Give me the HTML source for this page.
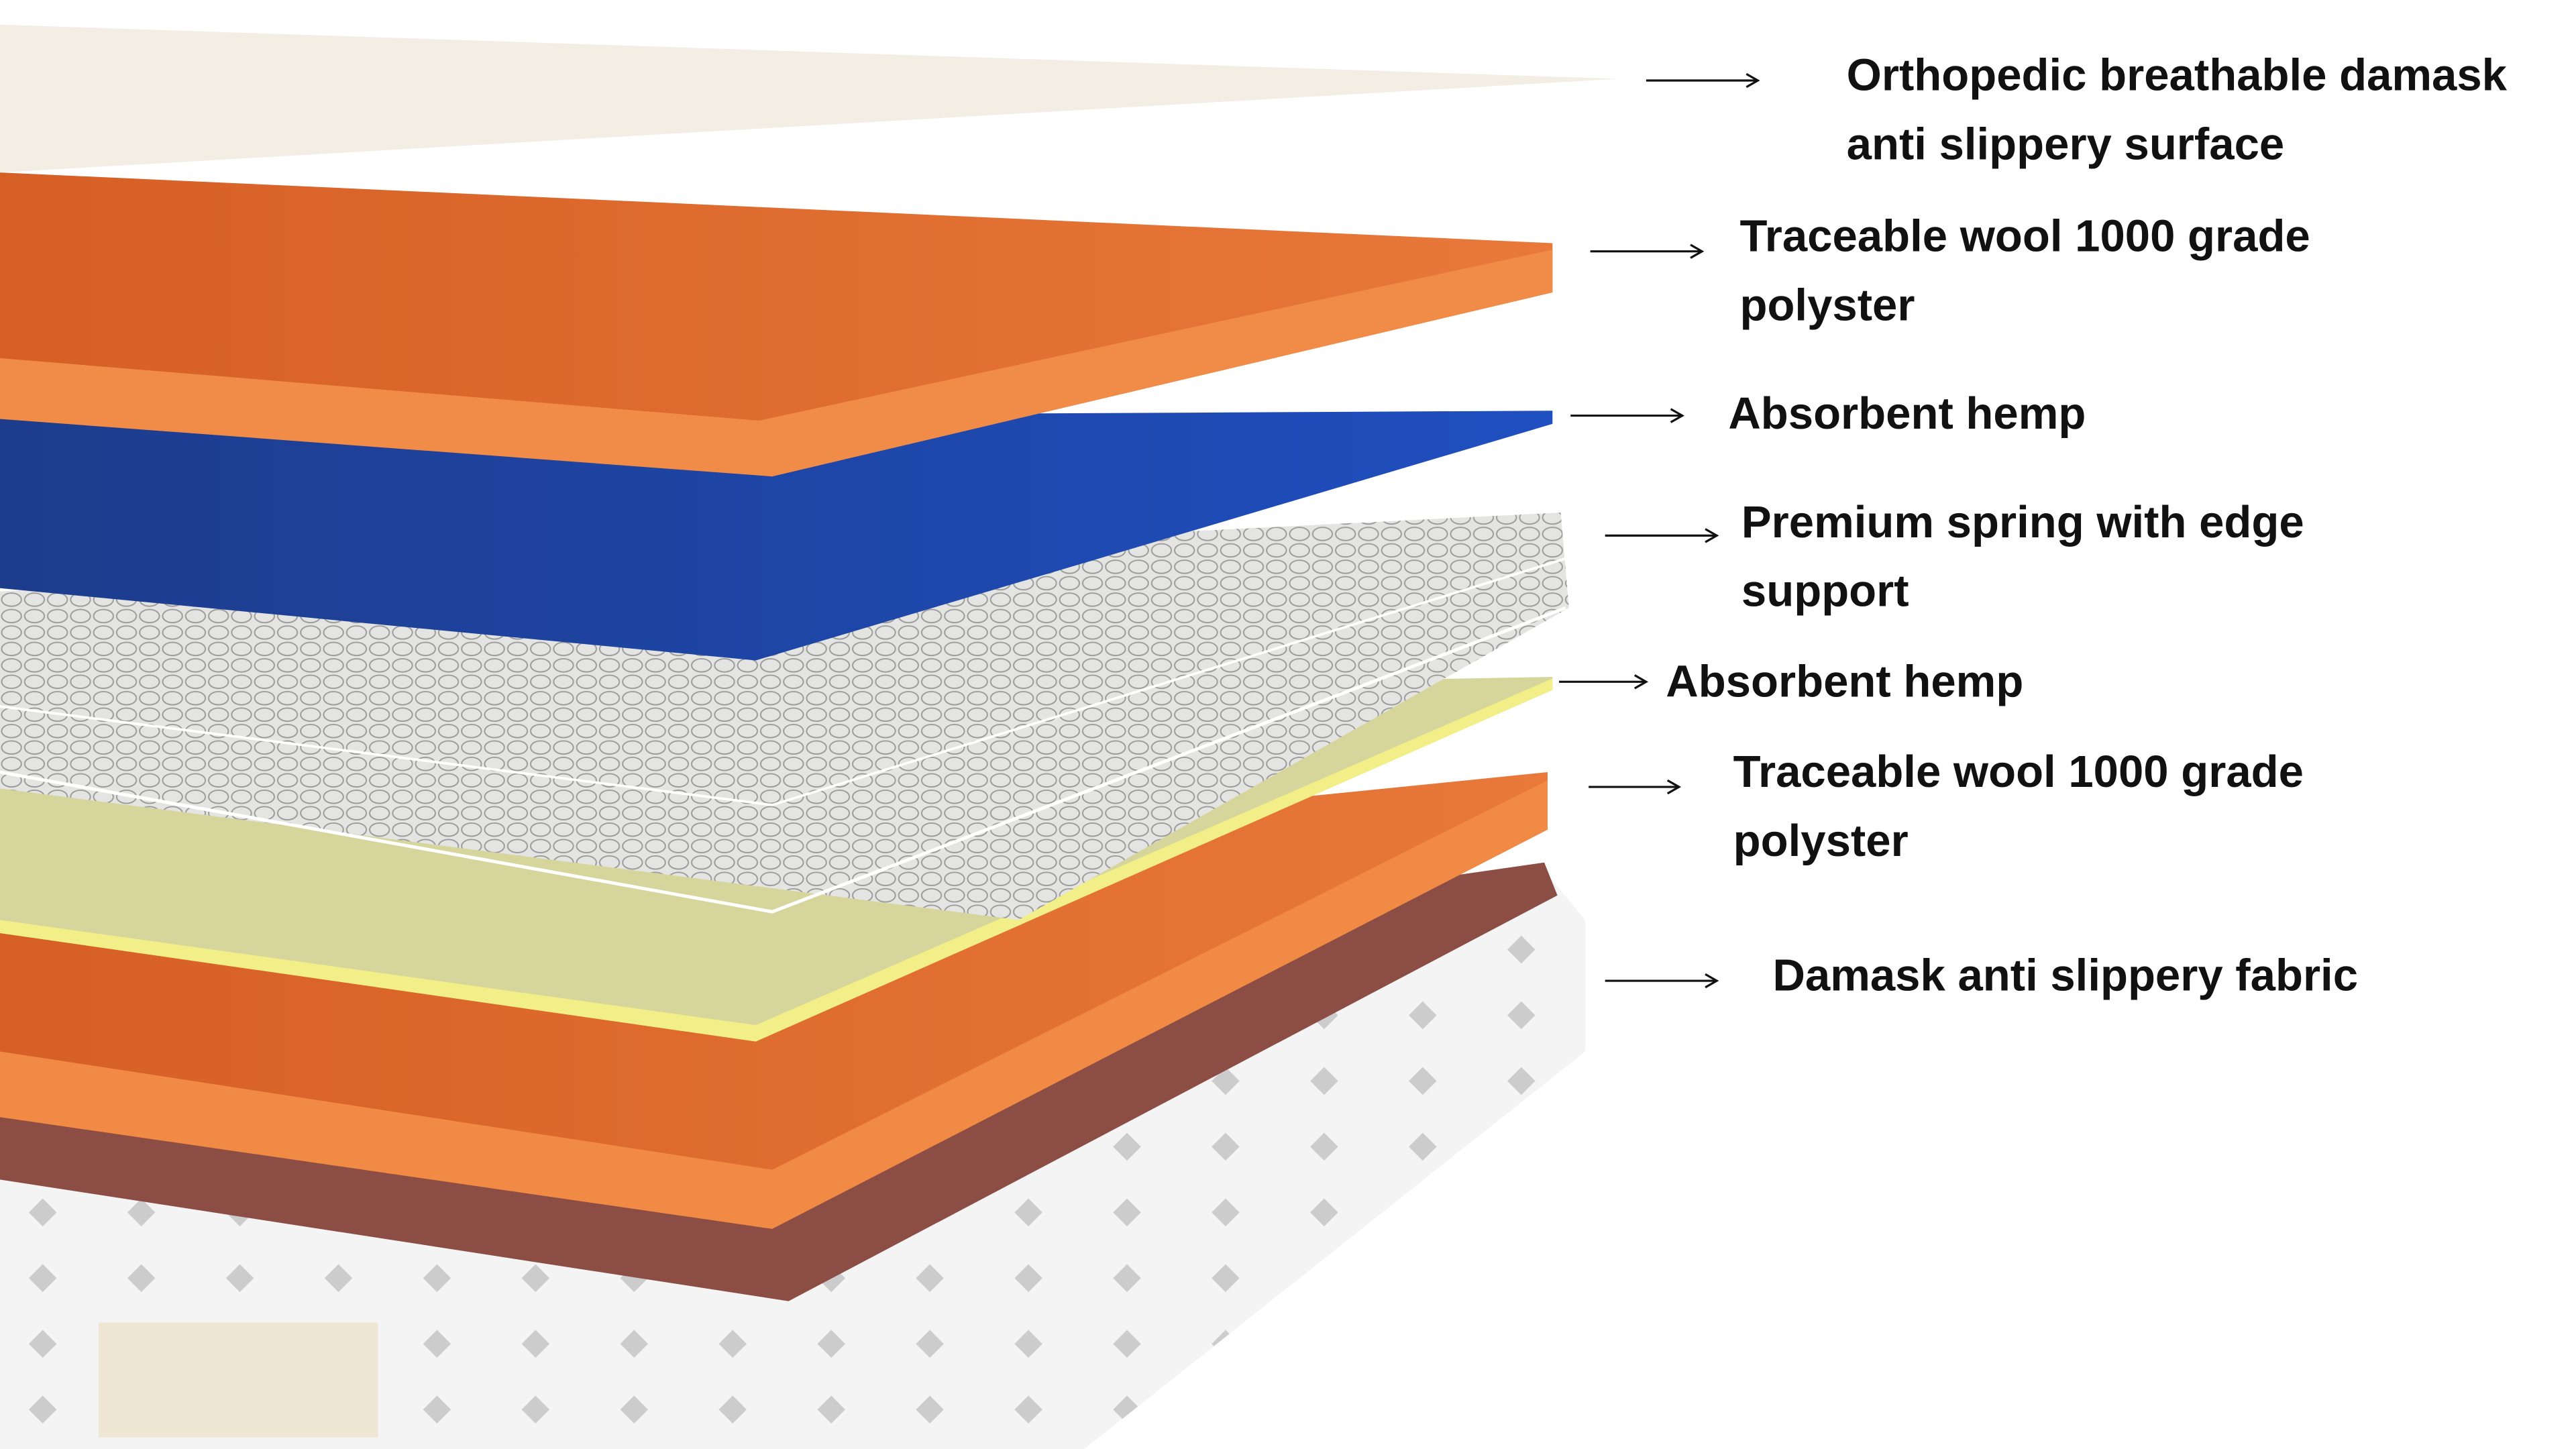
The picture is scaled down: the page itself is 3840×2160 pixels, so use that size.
<!DOCTYPE html>
<html><head><meta charset="utf-8"><style>
html,body{margin:0;padding:0;background:#fff;width:3840px;height:2160px;overflow:hidden}
svg{display:block}
text{font-family:"Liberation Sans",sans-serif;font-weight:bold;font-size:27.4px;fill:#111}
</style></head><body>
<svg width="3840" height="2160" viewBox="0 0 1568 882" preserveAspectRatio="none" xmlns="http://www.w3.org/2000/svg">
<defs>
<pattern id="mesh" width="14" height="10" patternUnits="userSpaceOnUse">
<ellipse cx="7" cy="5" rx="6" ry="4" fill="none" stroke="#9a9a9a" stroke-width="0.8"/>
</pattern>
<pattern id="dam" width="60" height="40" patternUnits="userSpaceOnUse">
<rect x="20" y="12" width="12" height="12" transform="rotate(45 26 18)" fill="#bbb" opacity="0.7"/>
</pattern>
<linearGradient id="or" x1="0" y1="0" x2="1" y2="0"><stop offset="0" stop-color="#d65f25"/><stop offset="1" stop-color="#e8793a"/></linearGradient>
<linearGradient id="bl" x1="0" y1="0" x2="1" y2="0"><stop offset="0" stop-color="#1d3c8c"/><stop offset="1" stop-color="#1f4fc0"/></linearGradient>
</defs>
<polygon points="0,715 940,530 965,560 965,640 660,882 0,882" fill="#f4f4f4"/>
<polygon points="0,715 940,530 965,560 965,640 660,882 0,882" fill="url(#dam)"/>
<rect x="60" y="805" width="170" height="70" fill="#efe6d4"/>
<polygon points="0,660 940,525 948,545 480,792 0,718" fill="#8c4d45"/>
<polygon points="0,565 942,470 942,505 470,748 0,680" fill="url(#or)"/>
<polygon points="0,640 470,712 942,475 942,505 470,748 0,680" fill="#f08a45"/>
<polygon points="0,430 945,412 945,420 460,632 0,568" fill="#d6d59c"/>
<polygon points="0,560 460,624 945,413 945,420 460,634 0,568" fill="#f3ef88"/>
<polygon points="0,360 950,312 955,370 620,560 0,480" fill="#e4e4e2"/>
<polygon points="0,360 950,312 955,370 620,560 0,480" fill="url(#mesh)"/>
<polyline points="0,470 470,555 953,370" fill="none" stroke="#fff" stroke-width="2"/>
<polyline points="0,430 470,490 953,340" fill="none" stroke="#fff" stroke-width="1.5"/>
<polygon points="0,255 945,250 945,258 460,402 0,358" fill="url(#bl)"/>
<polygon points="0,105 945,148 945,178 470,290 0,255" fill="url(#or)"/>
<polygon points="0,218 462,256 945,152 945,178 470,290 0,255" fill="#f08c48"/>
<polygon points="0,15 985,48 0,105" fill="#f2eee3"/>
<g stroke="#111" stroke-width="1.3" fill="none">
<line x1="1002" y1="49" x2="1070" y2="49"/><polyline points="1063,45 1070,49 1063,53"/>
<line x1="968" y1="153" x2="1036" y2="153"/><polyline points="1029,149 1036,153 1029,157"/>
<line x1="956" y1="253" x2="1024" y2="253"/><polyline points="1017,249 1024,253 1017,257"/>
<line x1="977" y1="326" x2="1045" y2="326"/><polyline points="1038,322 1045,326 1038,330"/>
<line x1="949" y1="415" x2="1002" y2="415"/><polyline points="995,411 1002,415 995,419"/>
<line x1="967" y1="479" x2="1022" y2="479"/><polyline points="1015,475 1022,479 1015,483"/>
<line x1="977" y1="597" x2="1045" y2="597"/><polyline points="1038,593 1045,597 1038,601"/>
</g>
<text x="1124" y="55">Orthopedic breathable damask</text>
<text x="1124" y="97">anti slippery surface</text>
<text x="1059" y="153">Traceable wool 1000 grade</text>
<text x="1059" y="195">polyster</text>
<text x="1052" y="261">Absorbent hemp</text>
<text x="1060" y="327">Premium spring with edge</text>
<text x="1060" y="369">support</text>
<text x="1014" y="424">Absorbent hemp</text>
<text x="1055" y="479">Traceable wool 1000 grade</text>
<text x="1055" y="521">polyster</text>
<text x="1079" y="603">Damask anti slippery fabric</text>
</svg>
</body></html>
